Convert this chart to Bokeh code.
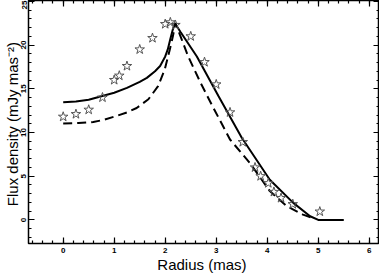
from bokeh.plotting import figure
from bokeh.models import Range1d, LinearAxis, SingleIntervalTicker, ColumnDataSource
from bokeh.embed import file_html
from bokeh.resources import INLINE

# observed points (stars)
star_x = [0.0, 0.25, 0.5, 0.77, 1.0, 1.1, 1.25, 1.5, 1.75, 2.0, 2.1, 2.2, 2.5, 2.77,
          3.0, 3.27, 3.52, 3.76, 3.87, 4.02, 4.13, 4.27, 4.5, 5.03]
star_y = [11.8, 12.1, 12.6, 14.0, 16.0, 16.5, 17.6, 19.5, 20.8, 22.4, 22.6, 22.3, 21.0, 18.05,
          15.5, 12.3, 8.9, 6.0, 5.0, 4.2, 3.2, 2.5, 1.8, 0.95]

# model 1 (solid)
solid_x = [0.0, 0.25, 0.5, 0.75, 1.0, 1.25, 1.5, 1.64, 1.8, 1.9, 2.0, 2.05, 2.1, 2.15, 2.19,
           2.3, 2.62, 3.04, 3.5, 4.05, 4.51, 4.84, 5.0, 5.5]
solid_y = [13.47, 13.55, 13.75, 14.15, 14.55, 15.1, 15.8, 16.25, 17.0, 17.6, 18.7, 19.5, 20.7, 21.8, 22.5,
           21.5, 18.7, 14.2, 9.4, 4.6, 1.95, 0.42, 0.0, 0.0]

# model 2 (dashed)
dash_x = [0.0, 0.3, 0.59, 0.8, 1.05, 1.25, 1.44, 1.67, 1.86, 1.99, 2.09, 2.15, 2.2,
          2.3, 2.45, 2.7, 2.91, 3.27, 3.66, 4.05, 4.38, 4.7, 4.85]
dash_y = [11.03, 11.08, 11.2, 11.45, 11.9, 12.3, 12.8, 13.8, 15.3, 17.2, 19.5, 21.0, 22.5,
          21.0, 18.7, 15.6, 13.2, 9.2, 6.5, 3.3, 1.57, 0.6, 0.3]

x_label = "Radius  (mas)"
y_label = "Flux density  (mJy mas\u207b\u00b2)"

p = figure(frame_width=351, frame_height=243, output_backend="svg", toolbar_location=None,
           x_range=Range1d(-0.68, 6.2), y_range=Range1d(-2.7, 25.1),
           x_axis_location=None, y_axis_location=None,
           min_border_left=0, min_border_right=0, min_border_top=0, min_border_bottom=0)
p.grid.visible = False
p.outline_line_color = "black"
p.outline_line_width = 1.5
p.background_fill_color = "white"
p.border_fill_color = "white"

def style_axis(ax, show_labels):
    ax.axis_line_color = None
    ax.major_tick_in = 6
    ax.major_tick_out = 0
    ax.minor_tick_in = 3
    ax.minor_tick_out = 0
    ax.major_tick_line_color = "black"
    ax.minor_tick_line_color = "black"
    ax.major_tick_line_width = 1.2
    ax.minor_tick_line_width = 1.2
    if show_labels:
        ax.major_label_text_font = "Liberation Sans"
        ax.major_label_text_font_style = "bold"
        ax.major_label_text_font_size = "8px"
        ax.major_label_text_color = "black"
        ax.axis_label_text_font = "Liberation Sans"
        ax.axis_label_text_font_style = "normal"
        ax.axis_label_text_font_size = "15px"
        ax.axis_label_text_color = "black"
    else:
        ax.major_label_text_font_size = "1px"
        ax.major_label_text_color = None
        ax.major_label_standoff = 0

xt = SingleIntervalTicker(interval=1, num_minor_ticks=5)
yt = SingleIntervalTicker(interval=5, num_minor_ticks=5)

xb = LinearAxis(ticker=xt, axis_label=x_label)
style_axis(xb, True)
xb.major_label_standoff = 4
xb.axis_label_standoff = 0
p.add_layout(xb, "below")

yl = LinearAxis(ticker=yt, axis_label=y_label)
style_axis(yl, True)
yl.major_label_orientation = "vertical"
yl.major_label_standoff = 2
yl.axis_label_standoff = -2
p.add_layout(yl, "left")

xa = LinearAxis(ticker=xt)
style_axis(xa, False)
p.add_layout(xa, "above")

yr = LinearAxis(ticker=yt)
style_axis(yr, False)
p.add_layout(yr, "right")

p.line(solid_x, solid_y, line_color="black", line_width=2)
p.line(dash_x, dash_y, line_color="black", line_width=2, line_dash="9 5")
src = ColumnDataSource(dict(x=star_x, y=star_y))
p.scatter("x", "y", source=src, marker="star", size=10, fill_color=None,
          line_color="#555555", line_width=1)

open("out.html", "w").write(file_html(p, INLINE))
